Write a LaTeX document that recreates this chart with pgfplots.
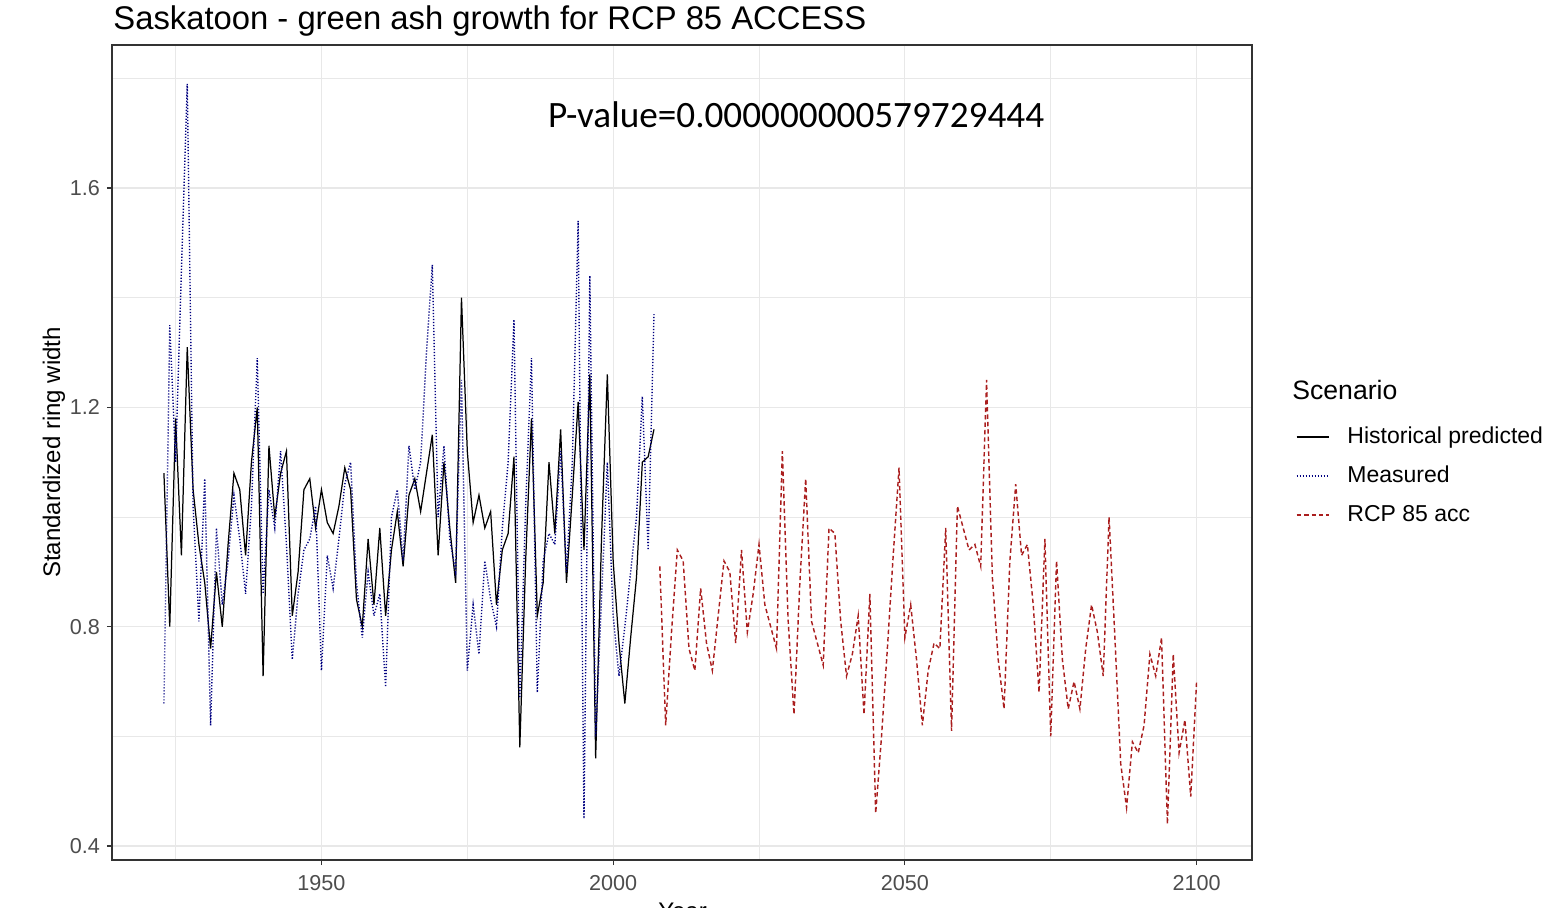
\documentclass[border=0pt]{standalone}
\usepackage{fontspec}
\setmainfont{Liberation Sans}
\newfontfamily\pfont{Carlito}
\usepackage{pgfplots}
\usepackage{pgfplotstable}
\pgfplotsset{compat=1.18}
\definecolor{histc}{RGB}{0,0,0}
\definecolor{measc}{RGB}{0,0,128}
\definecolor{rcpc}{RGB}{170,30,30}
\definecolor{gridc}{RGB}{232,232,232}
\definecolor{framec}{RGB}{51,51,51}
\definecolor{tickc}{RGB}{77,77,77}

\pgfplotstableread{
year val
1923 1.08
1924 0.80
1925 1.18
1926 0.93
1927 1.31
1928 1.05
1929 0.95
1930 0.88
1931 0.76
1932 0.90
1933 0.80
1934 0.95
1935 1.08
1936 1.05
1937 0.93
1938 1.10
1939 1.20
1940 0.71
1941 1.13
1942 1.00
1943 1.08
1944 1.12
1945 0.82
1946 0.90
1947 1.05
1948 1.07
1949 0.98
1950 1.05
1951 0.99
1952 0.97
1953 1.02
1954 1.09
1955 1.05
1956 0.85
1957 0.80
1958 0.96
1959 0.84
1960 0.98
1961 0.82
1962 0.94
1963 1.01
1964 0.91
1965 1.04
1966 1.07
1967 1.01
1968 1.08
1969 1.15
1970 0.93
1971 1.10
1972 0.98
1973 0.88
1974 1.40
1975 1.12
1976 0.99
1977 1.04
1978 0.98
1979 1.01
1980 0.84
1981 0.94
1982 0.97
1983 1.11
1984 0.58
1985 0.92
1986 1.18
1987 0.82
1988 0.88
1989 1.10
1990 0.97
1991 1.16
1992 0.88
1993 1.04
1994 1.21
1995 0.94
1996 1.26
1997 0.56
1998 0.96
1999 1.26
2000 0.92
2001 0.77
2002 0.66
2003 0.78
2004 0.89
2005 1.10
2006 1.11
2007 1.16
}\histtable

\pgfplotstableread{
year val
1923 0.66
1924 1.35
1925 1.10
1926 1.45
1927 1.79
1928 1.02
1929 0.81
1930 1.07
1931 0.62
1932 0.98
1933 0.84
1934 0.92
1935 1.04
1936 0.96
1937 0.86
1938 1.02
1939 1.29
1940 0.86
1941 1.05
1942 0.98
1943 1.12
1944 0.95
1945 0.74
1946 0.86
1947 0.94
1948 0.96
1949 1.02
1950 0.72
1951 0.93
1952 0.87
1953 0.96
1954 1.06
1955 1.10
1956 0.88
1957 0.78
1958 0.90
1959 0.82
1960 0.86
1961 0.69
1962 1.00
1963 1.05
1964 0.92
1965 1.13
1966 1.05
1967 1.10
1968 1.30
1969 1.46
1970 1.00
1971 1.13
1972 0.96
1973 0.90
1974 1.25
1975 0.72
1976 0.84
1977 0.75
1978 0.92
1979 0.85
1980 0.80
1981 0.98
1982 1.10
1983 1.36
1984 0.67
1985 1.02
1986 1.29
1987 0.68
1988 0.92
1989 0.97
1990 0.95
1991 1.12
1992 0.90
1993 1.10
1994 1.54
1995 0.45
1996 1.44
1997 0.60
1998 0.85
1999 1.10
2000 0.82
2001 0.71
2002 0.80
2003 0.90
2004 1.00
2005 1.22
2006 0.94
2007 1.37
}\meastable

\pgfplotstableread{
year val
2008 0.91
2009 0.62
2010 0.79
2011 0.94
2012 0.92
2013 0.76
2014 0.72
2015 0.87
2016 0.77
2017 0.72
2018 0.82
2019 0.92
2020 0.90
2021 0.77
2022 0.94
2023 0.79
2024 0.86
2025 0.95
2026 0.84
2027 0.80
2028 0.76
2029 1.12
2030 0.81
2031 0.64
2032 0.88
2033 1.07
2034 0.81
2035 0.77
2036 0.73
2037 0.98
2038 0.97
2039 0.81
2040 0.71
2041 0.75
2042 0.82
2043 0.64
2044 0.86
2045 0.46
2046 0.60
2047 0.76
2048 0.93
2049 1.09
2050 0.78
2051 0.84
2052 0.74
2053 0.62
2054 0.72
2055 0.77
2056 0.76
2057 0.98
2058 0.61
2059 1.02
2060 0.98
2061 0.94
2062 0.95
2063 0.91
2064 1.25
2065 0.89
2066 0.74
2067 0.65
2068 0.92
2069 1.06
2070 0.93
2071 0.95
2072 0.84
2073 0.68
2074 0.96
2075 0.60
2076 0.92
2077 0.74
2078 0.65
2079 0.70
2080 0.65
2081 0.76
2082 0.84
2083 0.79
2084 0.71
2085 1.00
2086 0.78
2087 0.55
2088 0.47
2089 0.59
2090 0.57
2091 0.62
2092 0.75
2093 0.71
2094 0.78
2095 0.44
2096 0.75
2097 0.57
2098 0.63
2099 0.49
2100 0.70
}\rcptable

\begin{document}
\begin{tikzpicture}
\path[use as bounding box] (0,0) rectangle (779bp,454bp);
\begin{axis}[
  at={(56bp,24bp)}, anchor=south west,
  scale only axis, width=570bp, height=407.5bp,
  xmin=1914.1, xmax=2109.5, ymin=0.3745, ymax=1.861,
  xtick={1950,2000,2050,2100}, ytick={0.4,0.8,1.2,1.6},
  minor xtick={1925,1975,2025,2075}, minor ytick={0.6,1.0,1.4,1.8},
  grid=both,
  major grid style={draw=gridc, line width=0.6bp},
  minor grid style={draw=gridc, line width=0.35bp},
  axis line style={draw=framec, line width=0.7bp},
  tick align=outside, major tick length=2.5bp, minor tick length=0pt,
  tick style={draw=framec, line width=0.6bp},
  xtick pos=lower, ytick pos=left,
  /pgf/number format/assume math mode=true,
  ticklabel style={font=\fontsize{10.8bp}{12bp}\selectfont, text=tickc},
  x tick label style={/pgf/number format/1000 sep={}, yshift=-1.5bp},
  y tick label style={/pgf/number format/.cd, fixed, fixed zerofill, precision=1},
  legend style={at={(1.0386,0.5325)}, anchor=north west, draw=none, fill=none,
    inner sep=0pt, outer sep=0pt, row sep=8.5bp, column sep=9bp,
    font=\fontsize{11.5bp}{13bp}\selectfont,
    nodes={inner sep=0pt, text height=8.5bp, text depth=2.5bp}},
  legend cell align=left,
  legend image code/.code={\draw[#1] (0bp,0bp) -- (16bp,0bp);},
]
\addplot[histc, line width=0.62bp] table[x=year, y=val] {\histtable};
\addlegendentry{Historical predicted}
\addplot[measc, line width=0.7bp, dash pattern=on 0.6bp off 0.9bp] table[x=year, y=val] {\meastable};
\addlegendentry{Measured}
\addplot[rcpc, line width=0.72bp, dash pattern=on 2.2bp off 1.5bp] table[x=year, y=val] {\rcptable};
\addlegendentry{RCP 85 acc}
\end{axis}
\node[anchor=base west, inner sep=0pt, font=\fontsize{16.4bp}{18bp}\selectfont] at (56.5bp,439bp) {Saskatoon - green ash growth for RCP 85 ACCESS};
\node[rotate=90, anchor=base, inner sep=0pt, font=\fontsize{12bp}{14bp}\selectfont] at (30bp,227.75bp) {Standardized ring width};
\node[anchor=base, inner sep=0pt, font=\fontsize{12bp}{14bp}\selectfont] at (341.25bp,-5.5bp) {Year};
\node[anchor=base, inner sep=0pt, font=\pfont\fontsize{18.6bp}{20bp}\selectfont] at (398bp,390bp) {P-value=0.000000000579729444};
\node[anchor=base west, inner sep=0pt, font=\fontsize{13.3bp}{15bp}\selectfont] at (646bp,254bp) {Scenario};
\end{tikzpicture}
\end{document}
